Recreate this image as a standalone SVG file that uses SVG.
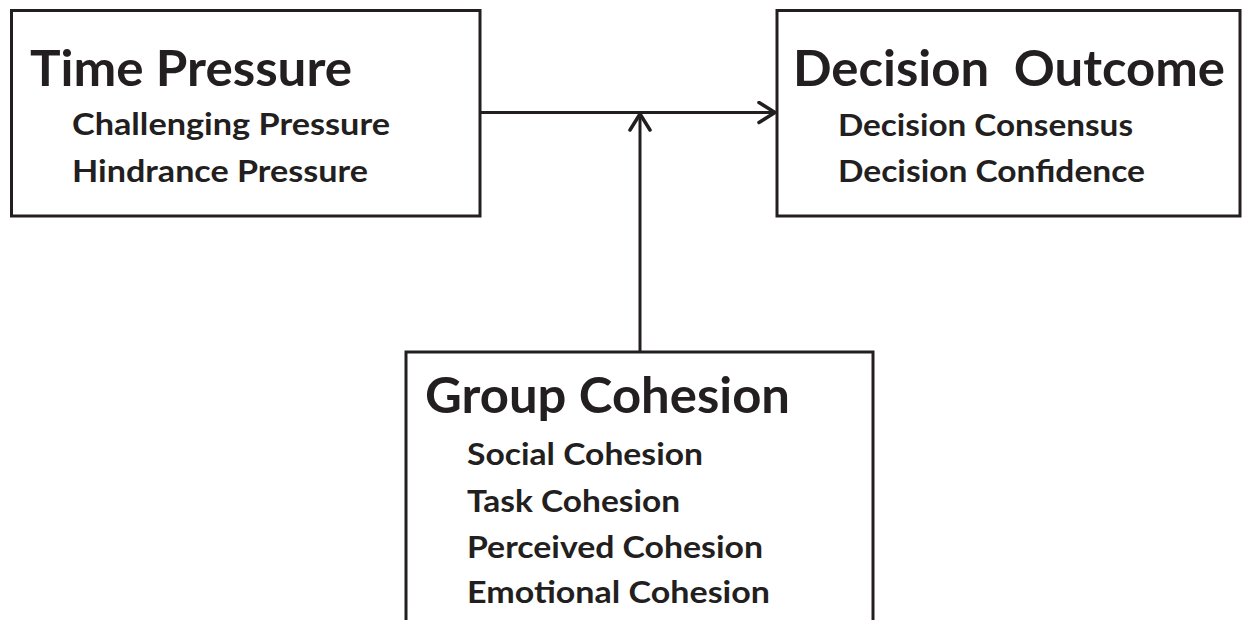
<svg xmlns="http://www.w3.org/2000/svg" width="1242" height="620" viewBox="0 0 1242 620">
<style>
.box{fill:#fff;stroke:#231f20;stroke-width:3}
.h{font-family:Lato,"Open Sans",sans-serif;font-weight:700;font-size:49px;fill:#231f20}
.s{font-family:Lato,"Open Sans",sans-serif;font-weight:700;font-size:29.5px;fill:#231f20}
.c{fill:none;stroke:#231f20;stroke-width:3}
</style>
<defs>
<marker id="arr" viewBox="0 0 20 24" refX="18" refY="12" markerWidth="20" markerHeight="24" markerUnits="userSpaceOnUse" orient="auto">
<path d="M2,2 L18,12 L2,22" fill="none" stroke="#231f20" stroke-width="3.5" stroke-linecap="round" stroke-linejoin="round"/>
</marker>
</defs>
<rect width="1242" height="620" fill="#fff"/>
<g id="connectors">
<line class="c" x1="480" y1="112.5" x2="775" y2="112.5" marker-end="url(#arr)"/>
<line class="c" x1="640" y1="352" x2="640" y2="114" marker-end="url(#arr)"/>
</g>
<g id="time-pressure">
<rect class="box" x="11.5" y="10.5" width="468.5" height="205.5"/>
<text class="h" x="30" y="86" textLength="322" lengthAdjust="spacingAndGlyphs">Time Pressure</text>
<text class="s" x="72" y="135" textLength="318" lengthAdjust="spacingAndGlyphs">Challenging Pressure</text>
<text class="s" x="72" y="182" textLength="296" lengthAdjust="spacingAndGlyphs">Hindrance Pressure</text>
</g>
<g id="decision-outcome">
<rect class="box" x="777" y="10.5" width="463" height="205.5"/>
<text class="h" x="793" y="86" textLength="432" lengthAdjust="spacingAndGlyphs" xml:space="preserve">Decision  Outcome</text>
<text class="s" x="838" y="136" textLength="295" lengthAdjust="spacingAndGlyphs">Decision Consensus</text>
<text class="s" x="838" y="182" textLength="307" lengthAdjust="spacingAndGlyphs">Decision Confidence</text>
</g>
<g id="group-cohesion">
<rect class="box" x="406" y="352" width="467" height="300"/>
<text class="h" x="425" y="413" textLength="365" lengthAdjust="spacingAndGlyphs">Group Cohesion</text>
<text class="s" x="467" y="465" textLength="236" lengthAdjust="spacingAndGlyphs">Social Cohesion</text>
<text class="s" x="467" y="512" textLength="213" lengthAdjust="spacingAndGlyphs">Task Cohesion</text>
<text class="s" x="467" y="558" textLength="296" lengthAdjust="spacingAndGlyphs">Perceived Cohesion</text>
<text class="s" x="467" y="603" textLength="303" lengthAdjust="spacingAndGlyphs">Emotional Cohesion</text>
</g>
</svg>
